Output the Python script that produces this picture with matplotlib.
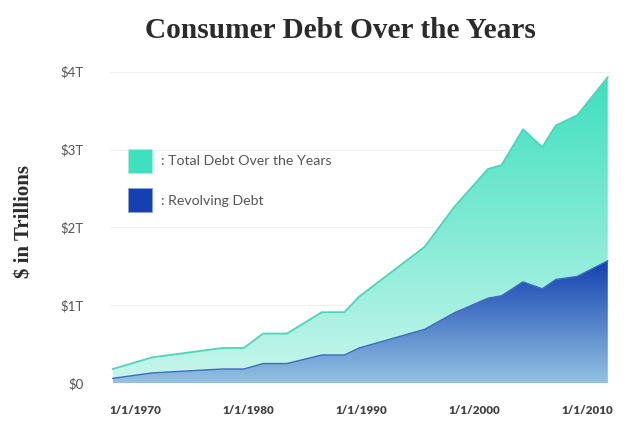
import numpy as np
import matplotlib
matplotlib.use("Agg")
import matplotlib.pyplot as plt
from matplotlib.colors import LinearSegmentedColormap
from matplotlib.patches import Rectangle

# ---- data ----
years = [1968.0, 1971.5, 1977.7, 1979.6, 1981.3, 1983.4, 1986.5, 1988.5, 1989.8,
         1995.6, 1998.2, 2001.2, 2002.4, 2004.3, 2006.0, 2007.2, 2009.1, 2011.8]
total_debt = [0.18, 0.33, 0.45, 0.45, 0.635, 0.635, 0.91, 0.91, 1.11,
              1.75, 2.26, 2.75, 2.80, 3.26, 3.03, 3.31, 3.44, 3.93]
revolving_debt = [0.06, 0.13, 0.18, 0.18, 0.25, 0.25, 0.36, 0.36, 0.45,
                  0.69, 0.90, 1.09, 1.12, 1.30, 1.21, 1.33, 1.37, 1.57]
y_ticks = [0, 1, 2, 3, 4]
y_tick_labels = ["$0", "$1T", "$2T", "$3T", "$4T"]
x_ticks = [1970, 1980, 1990, 2000, 2010]
x_tick_labels = ["1/1/1970", "1/1/1980", "1/1/1990", "1/1/2000", "1/1/2010"]
legend_labels = [": Total Debt Over the Years", ": Revolving Debt"]
title = "Consumer Debt Over the Years"
y_label = "$ in Trillions"

fig = plt.figure(figsize=(6.4, 4.29), dpi=100)
ax = fig.add_axes([110 / 640, (429 - 383) / 429, 500 / 640, (383 - 71.7) / 429])
xlim = (1967.75, 2012.0)


def gradient_fill(x, y, top_color, bottom_color, edge_color, edge_lw, z):
    x = np.asarray(x)
    y = np.asarray(y)
    poly = ax.fill_between(x, 0, y, facecolor="none", edgecolor="none", zorder=z)
    cmap = LinearSegmentedColormap.from_list("g", [bottom_color, top_color])
    grad = np.linspace(0, 1, 256).reshape(-1, 1)
    im = ax.imshow(grad, aspect="auto", cmap=cmap, origin="lower",
                   extent=[x.min(), x.max(), 0, y.max()], zorder=z,
                   interpolation="bilinear")
    path = poly.get_paths()[0]
    im.set_clip_path(path, transform=ax.transData)
    ax.plot(x, y, color=edge_color, lw=edge_lw, zorder=z + 0.5,
            solid_joinstyle="round")


gradient_fill(years, total_debt, "#3ddfbe", "#c9f6ec", "#4ad7b7", 1.3, 2)
gradient_fill(years, revolving_debt, "#1240b0", "#93c2e2", "#3d6dbf", 1.0, 3)
ax.set_xlim(*xlim)
ax.set_ylim(0, 4)

# grid
for yv in y_ticks[1:]:
    ax.axhline(yv, color="#f0f0f0", lw=0.8, zorder=1)

for s in ax.spines.values():
    s.set_visible(False)

ax.set_yticks(y_ticks)
ax.set_yticklabels(y_tick_labels, family="Lato", fontsize=9.5, color="#555555")
ax.set_xticks(x_ticks)
ax.set_xticklabels(x_tick_labels, family="Lato", fontsize=8.4,
                   fontweight="heavy", color="#444444")
ax.tick_params(axis="y", length=0, pad=19)
ax.tick_params(axis="x", length=0, pad=16)

# legend (manual)
fig.patches.append(Rectangle((128 / 640, 1 - 173 / 429), 24 / 640, 24 / 429,
                             transform=fig.transFigure, facecolor="#3ee0c0",
                             edgecolor="#a8efe0", lw=0.6, zorder=10))
fig.patches.append(Rectangle((128 / 640, 1 - 212 / 429), 24 / 640, 24 / 429,
                             transform=fig.transFigure, facecolor="#1440b0",
                             edgecolor="#8aa3db", lw=0.6, zorder=10))
fig.text(161 / 640, 1 - 161 / 429, legend_labels[0], family="Lato",
         fontsize=10.2, color="#555555", va="center", ha="left")
fig.text(161 / 640, 1 - 201 / 429, legend_labels[1], family="Lato",
         fontsize=10.2, color="#555555", va="center", ha="left")

fig.text(340 / 640, 1 - 31 / 429, title, family="Liberation Serif",
         fontweight="bold", fontsize=21.2, color="#2b2b2b",
         ha="center", va="center")
fig.text(25 / 640, 1 - 222 / 429, y_label, family="Liberation Serif",
         fontweight="bold", fontsize=15, color="#2b2b2b",
         ha="center", va="center", rotation=90)

fig.savefig("out.png", dpi=100)
